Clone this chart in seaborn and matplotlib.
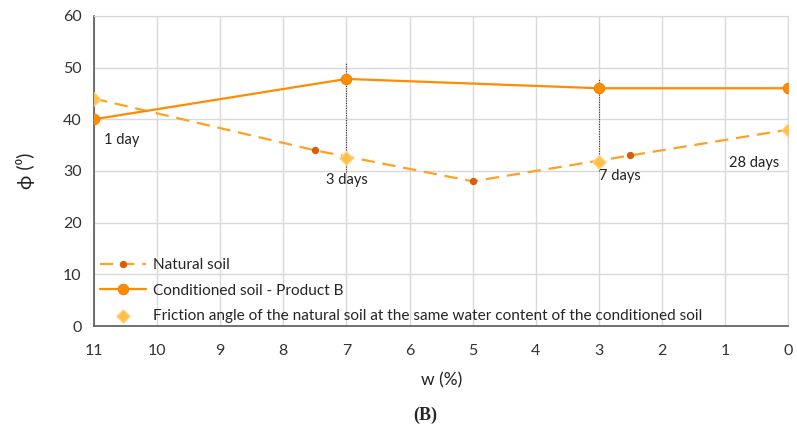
import numpy as np
import pandas as pd
import matplotlib
matplotlib.use("Agg")
import matplotlib.pyplot as plt
import seaborn as sns

# datos
w_natural = [11, 7.5, 5, 2.5, 0]
phi_natural = [44, 34, 28, 33, 38]

w_cond = [11, 7, 3, 0]
phi_cond = [40, 47.8, 46, 46]

w_fric = [11, 7, 3, 0]
phi_fric = [44, 32.6, 31.8, 38]

curado = ["1 day", "3 days", "7 days", "28 days"]
guia_w = [7, 3, 0]
guia_bajo = [29.8, 30, 34.8]
guia_alto = [51, 48, 48]

sns.set_style("whitegrid")
plt.rcParams['font.family'] = ['Lato', 'DejaVu Sans']

fig = plt.figure(figsize=(7.97, 4.28), dpi=100)
ax = fig.add_axes([0.118, 0.238, 0.871, 0.725])

df_nat = pd.DataFrame({"w": w_natural, "phi": phi_natural})
df_cond = pd.DataFrame({"w": w_cond, "phi": phi_cond})
df_fric = pd.DataFrame({"w": w_fric, "phi": phi_fric})

# lineas guia punteadas
ax.vlines(guia_w, guia_bajo, guia_alto, colors="#333333", linestyles=(0, (1, 1.2)),
          linewidth=0.8, zorder=2)

sns.lineplot(data=df_nat, x="w", y="phi", ax=ax, color="#FFA124", linewidth=1.6,
             dashes=False, linestyle=(0, (6, 3.5)), marker="o", markersize=4.5,
             markerfacecolor="#DC5A08", markeredgecolor="#DC5A08", label="Natural soil",
             zorder=3, sort=False)
sns.lineplot(data=df_cond, x="w", y="phi", ax=ax, color="#FF8C00", linewidth=1.6,
             marker="o", markersize=7.5, markerfacecolor="#FF8C00",
             markeredgecolor="#F08000", label="Conditioned soil - Product B", zorder=4,
             sort=False)
sns.scatterplot(data=df_fric, x="w", y="phi", ax=ax, marker="D", s=45,
                color="#FFC04A", edgecolor="#FFD27F", linewidth=1,
                label="Friction angle of the natural soil at the same water content of the conditioned soil",
                zorder=5)

# etiquetas de dias
ax.text(10.85, 36, curado[0], fontsize=10.5, ha="left", va="center", color="#222222")
ax.text(7, 28.2, curado[1], fontsize=10.5, ha="center", va="center", color="#222222")
ax.text(3.0, 29, curado[2], fontsize=10.5, ha="left", va="center", color="#222222")
ax.text(0.15, 31.5, curado[3], fontsize=10.5, ha="right", va="center", color="#222222")

ax.set_xlim(11, 0)
ax.set_ylim(0, 60)
ax.set_xticks(range(11, -1, -1))
ax.set_yticks(range(0, 61, 10))
ax.tick_params(axis="y", labelsize=11.5, colors="#333333", length=0, pad=9)
ax.tick_params(axis="x", labelsize=11.5, colors="#333333", length=0, pad=13)
ax.grid(True, color="#D9D9D9", linewidth=1)
for lado in ["top", "right"]:
    ax.spines[lado].set_color("#D9D9D9")
for lado in ["left", "bottom"]:
    ax.spines[lado].set_color("#595959")
    ax.spines[lado].set_linewidth(1.2)

ax.set_xlabel("w (%)", fontsize=12.5, color="#222222", labelpad=10)
ax.set_ylabel("ϕ (⁰)", fontsize=14, color="#222222", labelpad=20)

ax.legend(loc="lower left", frameon=False, fontsize=11.1, handlelength=3,
          handletextpad=0.4, borderaxespad=0.0, labelspacing=0.75,
          bbox_to_anchor=(0.0, -0.01))

fig.text(0.533, 0.03, "(B)", fontsize=13, fontweight="bold", family="Liberation Serif",
         ha="center", va="center")

fig.savefig("out.png", dpi=100)
